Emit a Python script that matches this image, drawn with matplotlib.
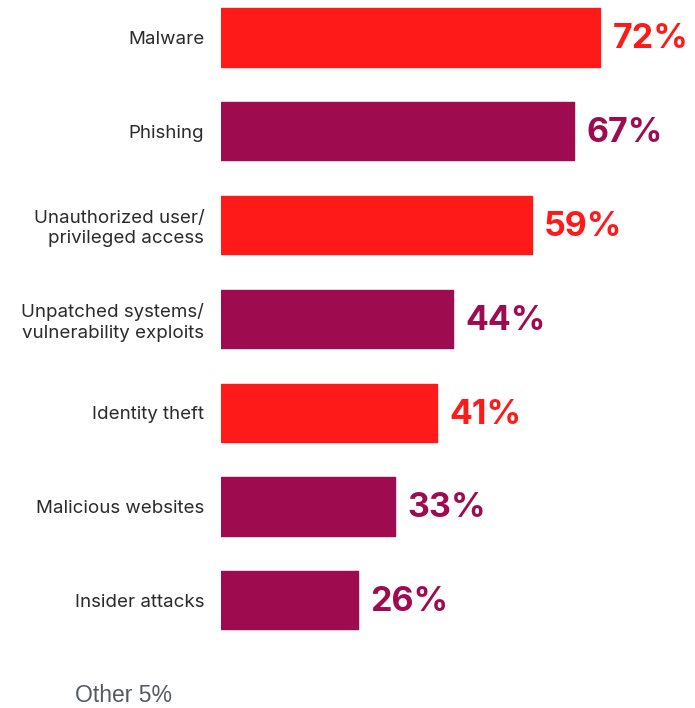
import matplotlib
matplotlib.use("Agg")
import matplotlib.pyplot as plt

categories = ["Malware", "Phishing", "Unauthorized user/\nprivileged access",
              "Unpatched systems/\nvulnerability exploits", "Identity theft",
              "Malicious websites", "Insider attacks"]
values = [72, 67, 59, 44, 41, 33, 26]
other_label = "Other 5%"

red = "#FF1A1A"
purple = "#9E0C4F"
colors = [red, purple, red, purple, red, purple, purple]

W, H = 695, 708
fig = plt.figure(figsize=(W / 100, H / 100), dpi=100)

# axes spans from bar start to right edge, full height
left_px = 221
ax = fig.add_axes([left_px / W, 0, 1 - left_px / W, 1])

px_per_unit = 5.27
row_px = 93.8
first_center = 37.5

ypos = list(range(len(values)))
ax.barh(ypos, values, height=0.62, color=colors, edgecolor=colors,
        linewidth=1, joinstyle="round")

ax.set_xlim(0, (W - left_px) / px_per_unit)
ax.set_ylim((H - first_center) / row_px, -first_center / row_px)

for y, v, c in zip(ypos, values, colors):
    ax.text(v + 12 / px_per_unit, y + 0.02, f"{v}%", color=c, fontsize=24.5,
            fontweight="bold", family="Inter", va="center", ha="left")

ax.set_yticks(ypos)
ax.set_yticklabels(categories, fontsize=13.5, family="Inter", color="#2b2b2b",
                   linespacing=1.25)
ax.tick_params(axis="y", length=0, pad=12)
ax.set_xticks([])
for s in ax.spines.values():
    s.set_visible(False)

fig.text(75 / W, 1 - 695 / H, other_label, fontsize=16.5,
         family="Liberation Sans", color="#555a60", va="center", ha="left")

fig.savefig("out.png", dpi=100)
